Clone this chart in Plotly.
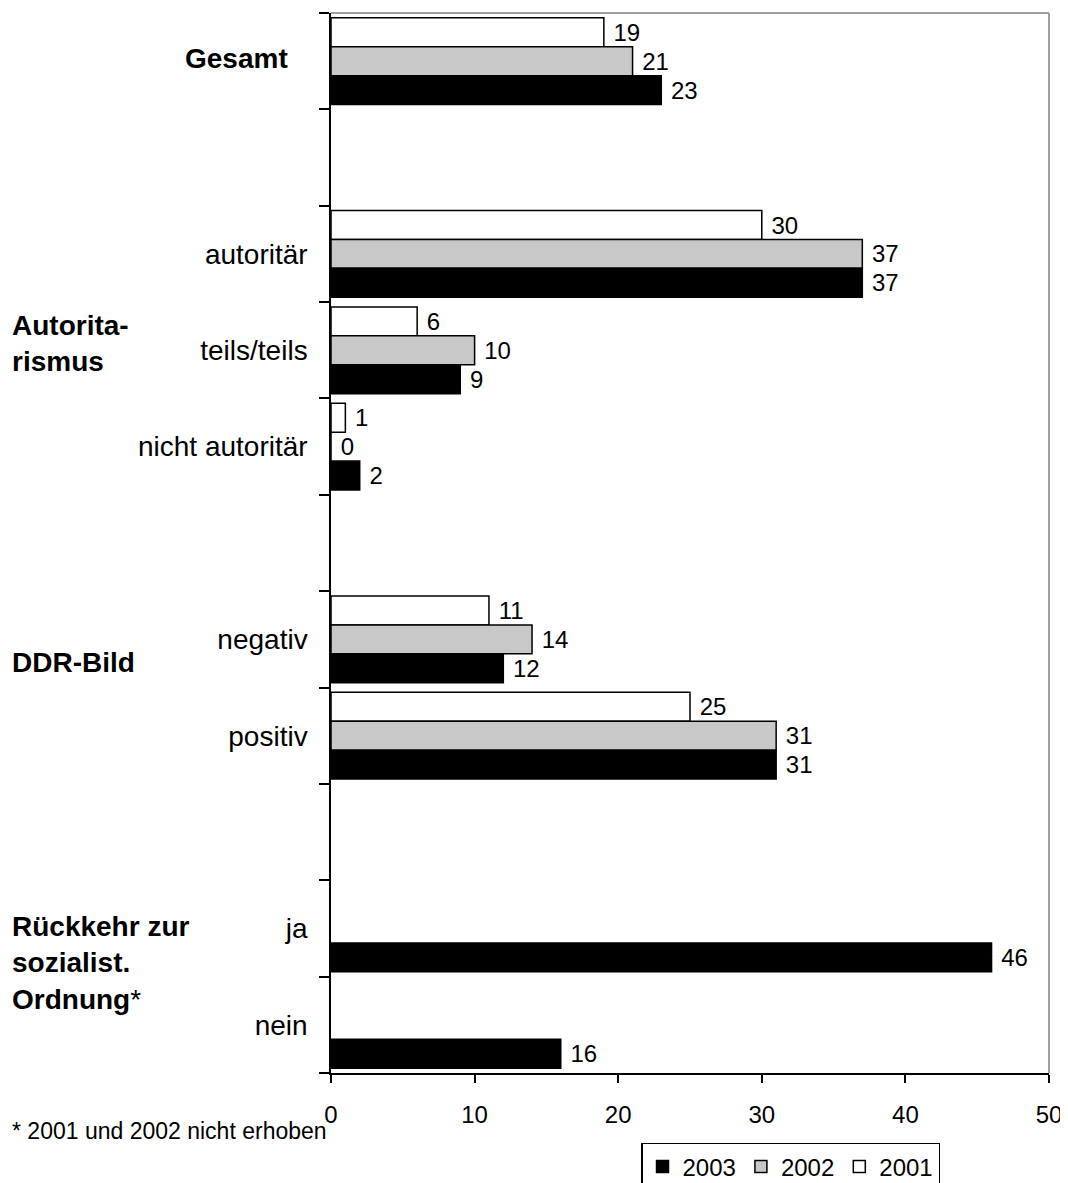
import plotly.graph_objects as go

# category slots (top to bottom); gap slots have empty labels
categories = ["Gesamt", "gap1", "autoritär", "teils/teils", "nicht autoritär",
              "gap2", "negativ", "positiv", "gap3", "ja", "nein"]
tick_labels = ["", "", "autoritär", "teils/teils", "nicht autoritär",
               "", "negativ", "positiv", "", "ja", "nein"]

v2001 = [19, None, 30, 6, 1, None, 11, 25, None, None, None]
v2002 = [21, None, 37, 10, 0, None, 14, 31, None, None, None]
v2003 = [23, None, 37, 9, 2, None, 12, 31, None, 46, 16]

series = [("2001", v2001, "#ffffff"), ("2002", v2002, "#c8c8c8"), ("2003", v2003, "#000000")]

FONT = "Liberation Sans, Arial, sans-serif"

fig = go.Figure()
for name, vals, color in series:
    fig.add_trace(go.Bar(
        y=categories, x=vals, name=name, orientation="h",
        marker=dict(color=color, line=dict(color="#000000", width=1.5)),
        texttemplate="\u00a0%{x}", textposition="outside", constraintext="none",
        cliponaxis=False, textfont=dict(size=24, color="#000000", family=FONT),
    ))

fig.update_layout(
    width=1060, height=1175,
    margin=dict(l=323, r=19, t=5, b=110, autoexpand=False),
    paper_bgcolor="white", plot_bgcolor="white",
    barmode="group", bargap=0.1, bargroupgap=0,
    font=dict(family=FONT, color="#000000", size=24),
    showlegend=True,
    legend=dict(orientation="h", traceorder="reversed", x=0.64, y=-0.066,
                xanchor="center", yanchor="top", bordercolor="#000000", borderwidth=1.5,
                font=dict(size=24), itemwidth=30, tracegroupgap=0),
)
fig.update_xaxes(range=[0, 50], tickvals=[0, 10, 20, 30, 40, 50], showgrid=False,
                 showline=True, linecolor="#000000", linewidth=1.5,
                 ticks="outside", ticklen=8, tickcolor="#000000", tickwidth=1.5,
                 tickfont=dict(size=24), ticklabelstandoff=11, zeroline=False,
                 automargin=False)
fig.update_yaxes(type="category", categoryorder="array", categoryarray=categories,
                 autorange="reversed", tickvals=categories, ticktext=tick_labels,
                 tickson="boundaries", ticks="outside", ticklen=10, tickcolor="#000000",
                 tickwidth=1.5, showline=True, linecolor="#000000", linewidth=1.5,
                 showgrid=False, tickfont=dict(size=28), ticklabelstandoff=16,
                 automargin=False)

# gray frame on top and right
fig.add_shape(type="line", xref="paper", yref="paper", x0=0, x1=1, y0=1, y1=1,
              line=dict(color="#a0a0a0", width=2))
fig.add_shape(type="line", xref="paper", yref="paper", x0=1, x1=1, y0=0, y1=1,
              line=dict(color="#a0a0a0", width=2))

bold = dict(size=28, family=FONT, color="#000000")
fig.add_annotation(text="<b>Gesamt</b>", xref="paper", yref="y", x=-0.057, y="Gesamt",
                   xanchor="right", yanchor="middle", yshift=3, showarrow=False, font=bold)
fig.add_annotation(text="<b>Autorita-</b><br><b>rismus</b>", xref="paper", yref="paper",
                   x=-0.447, y=0.688, xanchor="left", yanchor="middle", align="left",
                   showarrow=False, font=bold)
fig.add_annotation(text="<b>DDR-Bild</b>", xref="paper", yref="paper",
                   x=-0.447, y=0.387, xanchor="left", yanchor="middle", align="left",
                   showarrow=False, font=bold)
fig.add_annotation(text="<b>Rückkehr zur</b><br><b>sozialist.</b><br><b>Ordnung</b>*",
                   xref="paper", yref="paper", x=-0.447, y=0.104, xanchor="left",
                   yanchor="middle", align="left", showarrow=False, font=bold)
fig.add_annotation(text="* 2001 und 2002 nicht erhoben", xref="paper", yref="paper",
                   x=-0.447, y=-0.055, xanchor="left", yanchor="middle", align="left",
                   showarrow=False, font=dict(size=23, family=FONT, color="#000000"))

fig.write_html("out.html")
